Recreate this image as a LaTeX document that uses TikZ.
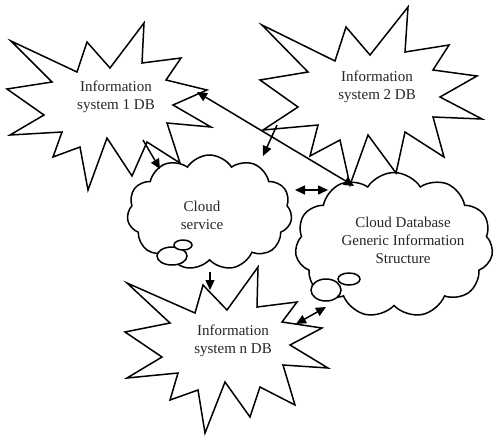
\documentclass[tikz,border=0pt]{standalone}
\usepackage{fontspec}
\setmainfont{Liberation Serif}
\usetikzlibrary{shapes.symbols,arrows.meta}
\begin{document}
\begin{tikzpicture}[x=1pt,y=-1pt,
  outline/.style={draw=black,fill=white,line width=1.5pt,line join=miter},
  cloudbox/.style={cloud,draw=black,fill=white,line width=1.5pt,cloud puffs=11,cloud puff arc=115,cloud ignores aspect,inner sep=0pt},
  lbl/.style={align=center,font=\fontsize{15}{18}\selectfont,text=black!85},
  tip/.style={-{Triangle[length=10pt,width=9pt]},line width=1.5pt},
  dtip/.style={{Triangle[length=10pt,width=9pt]}-{Triangle[length=10pt,width=9pt]},line width=1.5pt}]
\useasboundingbox (0,0) rectangle (494,437);
% clouds
\node[cloudbox,minimum width=165pt,minimum height=115pt] (cs) at (209.5,212.5) {};
\node[cloudbox,minimum width=198pt,minimum height=145pt] (cdb) at (394,245) {};
\draw[outline] (172,256) ellipse (15 and 9);
\draw[outline] (183,245) ellipse (9 and 5);
\draw[outline] (326,290) ellipse (15 and 11);
\draw[outline] (349,279) ellipse (11 and 6);
% stars
\draw[outline] (11,41) -- (77,72) -- (87,42) -- (110,68) -- (144,23) -- (142,63) -- (181,58) -- (166,80) -- (207,90) -- (173,105) -- (211,127) -- (167,123) -- (180,163) -- (147,142) -- (132,176) -- (107,138) -- (88,190) -- (80,147) -- (53,157) -- (62,132) -- (10,135) -- (44,115) -- (7,89) -- (52,82) -- cycle;
\draw[outline] (262,25) -- (335,61) -- (346,27) -- (370,55) -- (408,7) -- (405,52) -- (449,45) -- (433,70) -- (477,76) -- (440,97) -- (482,119) -- (433,117) -- (444,157) -- (405,132) -- (396,173) -- (368,135) -- (350,185) -- (340,140) -- (310,156) -- (318,125) -- (263,130) -- (298,107) -- (260,80) -- (308,72) -- cycle;
\draw[outline] (127,283) -- (195,313) -- (203,285) -- (227,310) -- (258,267) -- (257,307) -- (297,302) -- (282,322) -- (322,328) -- (290,345) -- (328,368) -- (283,365) -- (295,405) -- (260,387) -- (250,417) -- (225,382) -- (205,433) -- (198,390) -- (170,400) -- (178,373) -- (127,378) -- (162,357) -- (125,332) -- (170,323) -- cycle;
% labels
\node[lbl] (s1) at (116,97) {Information\\system 1 DB};
\node[lbl] (s2) at (377,87) {Information\\system 2 DB};
\node[lbl] (sn) at (233,341) {Information\\system n DB};
\node[lbl] (csl) at (202,215) {Cloud\\service};
\node[lbl] (cdbl) at (403,240) {Cloud Database\\Generic Information\\Structure};
% connector ends
\coordinate (a1) at (143,140); \coordinate (a2) at (160,169);
\coordinate (b1) at (197,92); \coordinate (b2) at (354,186);
\coordinate (c1) at (277,125); \coordinate (c2) at (263,156);
\coordinate (d1) at (295,190); \coordinate (d2) at (328,190);
\coordinate (e1) at (210,272); \coordinate (e2) at (210,290);
\coordinate (f1) at (296,324); \coordinate (f2) at (326,307);
\draw[tip] (a1) -- (a2);
\draw[dtip] (b1) -- (b2);
\draw[tip] (c1) -- (c2);
\draw[dtip] (d1) -- (d2);
\draw[tip] (e1) -- (e2);
\draw[dtip] (f1) -- (f2);
\end{tikzpicture}
\end{document}
